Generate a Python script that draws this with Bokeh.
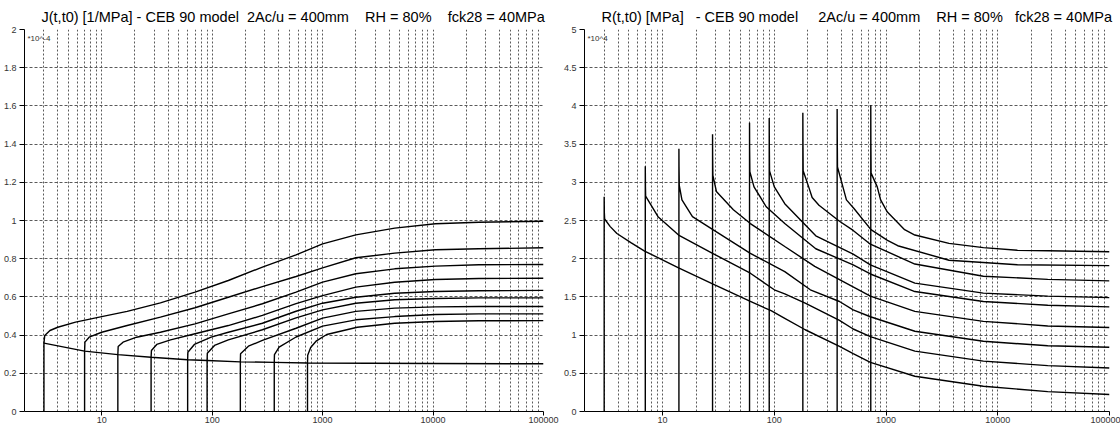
from bokeh.plotting import figure
from bokeh.models import Range1d, FixedTicker, Label
from bokeh.layouts import row
from bokeh.embed import file_html
from bokeh.resources import INLINE

# ---------------- data ----------------
T0 = [3, 7, 14, 28, 60, 90, 180, 365, 730]

x_ticks = [10, 100, 1000, 10000, 100000]
x_tick_labels = ["10", "100", "1000", "10000", "100000"]
x_grid = [m * 10 ** e for e in range(0, 5) for m in range(1, 10) if 2 <= m * 10 ** e <= 100000] + [100000]

j_ticks = [0, 0.2, 0.4, 0.6, 0.8, 1, 1.2, 1.4, 1.6, 1.8, 2]
j_tick_labels = ["0", "0.2", "0.4", "0.6", "0.8", "1", "1.2", "1.4", "1.6", "1.8", "2"]
r_ticks = [0, 0.5, 1, 1.5, 2, 2.5, 3, 3.5, 4, 4.5, 5]
r_tick_labels = ["0", "0.5", "1", "1.5", "2", "2.5", "3", "3.5", "4", "4.5", "5"]

# creep compliance J(t,t0) [*10^-4 1/MPa]
j3_t = [3, 3, 3.05, 3.4, 4, 5.8, 10, 17, 34, 70, 140, 285, 575, 1000, 2000, 4500, 10500, 26000, 100000]
j3_v = [0, 0.358, 0.398, 0.424, 0.441, 0.468, 0.497, 0.524, 0.569, 0.625, 0.686, 0.756, 0.820, 0.878, 0.925, 0.960, 0.983, 0.991, 0.996]
j7_t = [7, 7, 7.05, 7.7, 10, 17, 34, 70, 140, 285, 575, 1000, 2000, 4500, 10500, 26000, 100000]
j7_v = [0, 0.316, 0.363, 0.389, 0.415, 0.450, 0.494, 0.543, 0.598, 0.654, 0.707, 0.752, 0.805, 0.829, 0.847, 0.852, 0.857]
j14_t = [14, 14, 14.1, 15.6, 20.7, 34, 70, 140, 285, 575, 1000, 2000, 4500, 10500, 26000, 100000]
j14_v = [0, 0.298, 0.340, 0.363, 0.389, 0.415, 0.459, 0.511, 0.564, 0.625, 0.677, 0.721, 0.747, 0.761, 0.768, 0.770]
j28_t = [28, 28, 28.2, 31.5, 42, 70, 140, 285, 575, 1000, 2000, 4500, 10500, 26000, 100000]
j28_v = [0, 0.284, 0.319, 0.351, 0.375, 0.407, 0.450, 0.503, 0.565, 0.607, 0.651, 0.677, 0.691, 0.696, 0.698]
j60_t = [60, 60, 60.3, 69, 98, 140, 285, 575, 1000, 2000, 4500, 10500, 26000, 100000]
j60_v = [0, 0.271, 0.310, 0.351, 0.389, 0.415, 0.462, 0.525, 0.567, 0.598, 0.619, 0.628, 0.632, 0.634]
j90_t = [90, 90, 90.4, 105, 140, 285, 575, 1000, 2000, 4500, 10500, 26000, 100000]
j90_v = [0, 0.267, 0.305, 0.346, 0.375, 0.428, 0.490, 0.532, 0.567, 0.585, 0.592, 0.595, 0.595]
j180_t = [180, 180, 180.8, 213, 285, 575, 1000, 2000, 4500, 10500, 26000, 100000]
j180_v = [0, 0.260, 0.302, 0.342, 0.372, 0.436, 0.489, 0.524, 0.541, 0.548, 0.550, 0.550]
j365_t = [365, 365, 366.5, 404, 575, 1000, 2000, 4500, 10500, 26000, 100000]
j365_v = [0, 0.257, 0.298, 0.337, 0.390, 0.447, 0.480, 0.497, 0.508, 0.511, 0.511]
j730_t = [730, 730, 733, 780, 880, 1090, 2060, 4500, 10500, 26000, 100000]
j730_v = [0, 0.254, 0.295, 0.335, 0.370, 0.403, 0.441, 0.462, 0.471, 0.475, 0.476]
jel_t = [3, 7, 14, 28, 60, 90, 180, 365, 730, 10000, 100000]
jel_v = [0.358, 0.316, 0.298, 0.284, 0.271, 0.267, 0.260, 0.257, 0.254, 0.251, 0.250]

# relaxation R(t,t0) [*10^4 MPa]
r3_t = [3, 3, 3.01, 3.03, 3.4, 3.9, 5.2, 6.9, 13.9, 28, 61, 93.5, 124, 189, 383, 508, 724, 1811, 7430, 28000, 100000]
r3_v = [0, 2.81, 2.60, 2.52, 2.42, 2.33, 2.21, 2.10, 1.88, 1.67, 1.44, 1.32, 1.22, 1.07, 0.853, 0.757, 0.644, 0.461, 0.33, 0.26, 0.222]
r7_t = [7, 7, 7.02, 7.05, 9.1, 13.9, 28, 61, 100, 124, 189, 383, 508, 724, 1811, 7430, 28000, 100000]
r7_v = [0, 3.21, 2.95, 2.82, 2.55, 2.31, 2.07, 1.81, 1.593, 1.54, 1.419, 1.192, 1.08, 0.98, 0.79, 0.66, 0.60, 0.57]
r14_t = [14, 14, 14.03, 14.1, 14.9, 18.5, 28.2, 61, 124, 210, 383, 508, 724, 1811, 7430, 28000, 100000]
r14_v = [0, 3.44, 3.2, 2.96, 2.77, 2.55, 2.38, 2.07, 1.83, 1.593, 1.44, 1.33, 1.24, 1.05, 0.92, 0.86, 0.84]
r28_t = [28, 28, 28.05, 28.2, 30.3, 43, 61, 124, 230, 724, 1811, 7430, 28000, 100000]
r28_v = [0, 3.63, 3.35, 3.09, 2.88, 2.64, 2.46, 2.16, 1.90, 1.51, 1.31, 1.18, 1.12, 1.10]
r60_t = [60, 60, 60.1, 60.4, 65.8, 84.6, 124, 235, 508, 724, 1811, 7430, 28000, 100000]
r60_v = [0, 3.78, 3.45, 3.14, 2.94, 2.68, 2.46, 2.13, 1.92, 1.80, 1.57, 1.44, 1.39, 1.37]
r90_t = [90, 90, 90.2, 90.6, 100, 124, 235, 508, 724, 1811, 7430, 28000, 100000]
r90_v = [0, 3.84, 3.5, 3.15, 2.94, 2.72, 2.30, 2.06, 1.92, 1.68, 1.55, 1.51, 1.49]
r180_t = [180, 180, 180.4, 181.2, 203, 218, 251, 383, 508, 724, 1811, 7430, 28000, 100000]
r180_v = [0, 3.91, 3.55, 3.15, 2.94, 2.80, 2.70, 2.49, 2.37, 2.19, 1.93, 1.77, 1.73, 1.71]
r365_t = [365, 365, 365.8, 367.5, 411, 442, 514, 733, 1030, 1272, 3660, 15000, 100000]
r365_v = [0, 3.96, 3.6, 3.2, 2.94, 2.77, 2.66, 2.38, 2.24, 2.17, 1.98, 1.92, 1.91]
r730_t = [730, 730, 731.5, 735, 834, 894, 1028, 1466, 1811, 3660, 7430, 15000, 100000]
r730_v = [0, 4.01, 3.5, 3.12, 2.94, 2.77, 2.61, 2.38, 2.31, 2.20, 2.145, 2.11, 2.09]

J_SERIES = [(j3_t, j3_v), (j7_t, j7_v), (j14_t, j14_v), (j28_t, j28_v), (j60_t, j60_v),
            (j90_t, j90_v), (j180_t, j180_v), (j365_t, j365_v), (j730_t, j730_v), (jel_t, jel_v)]
R_SERIES = [(r3_t, r3_v), (r7_t, r7_v), (r14_t, r14_v), (r28_t, r28_v), (r60_t, r60_v),
            (r90_t, r90_v), (r180_t, r180_v), (r365_t, r365_v), (r730_t, r730_v)]

NB = "\u00a0"
TITLE_J = "J(t,t0) [1/MPa] - CEB 90 model" + NB * 2 + "2Ac/u = 400mm" + NB * 4 + "RH = 80%" + NB * 4 + "fck28 = 40MPa"
TITLE_R = "R(t,t0) [MPa]" + NB * 3 + "- CEB 90 model" + NB * 5 + "2Ac/u = 400mm" + NB * 4 + "RH = 80%" + NB * 3 + "fck28 = 40MPa"

FONT = "Liberation Sans"


def make_fig(title, ymax, yticks, ylabels, series, mult, left_border, right_border):
    p = figure(width=560, height=428, x_axis_type="log",
               x_range=Range1d(2, 100000), y_range=Range1d(0, ymax),
               output_backend="svg", toolbar_location=None,
               min_border_left=left_border, min_border_right=right_border,
               min_border_top=29, min_border_bottom=17)
    p.outline_line_color = None
    p.background_fill_color = "white"
    p.border_fill_color = "white"

    p.title.text = title
    p.title.align = "left"
    p.title.text_font = FONT
    p.title.text_font_size = "14.5px"
    p.title.text_font_style = "normal"
    p.title.text_color = "black"
    p.title.standoff = 10
    p.title.offset = 17

    for ax in (p.xaxis[0], p.yaxis[0]):
        ax.axis_line_color = "black"
        ax.axis_line_width = 1
        ax.major_tick_line_color = "black"
        ax.major_tick_in = 0
        ax.minor_tick_line_color = None
        ax.major_label_text_font = FONT
        ax.major_label_text_font_size = "9px"
        ax.major_label_text_color = "#333333"

    p.xaxis.major_tick_out = 4
    p.xaxis.major_label_standoff = 1
    p.yaxis.major_tick_out = 5
    p.yaxis.major_label_standoff = 3
    p.xaxis.ticker = FixedTicker(ticks=x_ticks, minor_ticks=[])
    p.xaxis.major_label_overrides = {t: l for t, l in zip(x_ticks, x_tick_labels)}
    p.yaxis.ticker = FixedTicker(ticks=yticks, minor_ticks=[])
    p.yaxis.major_label_overrides = {t: l for t, l in zip(yticks, ylabels)}

    p.xgrid.ticker = FixedTicker(ticks=x_grid, minor_ticks=[])
    p.xgrid.grid_line_color = "#5a5a5a"
    p.xgrid.grid_line_dash = "2 2"
    p.xgrid.grid_line_width = 1
    p.ygrid.ticker = FixedTicker(ticks=yticks[1:], minor_ticks=[])
    p.ygrid.grid_line_color = "#5a5a5a"
    p.ygrid.grid_line_dash = "3 2"
    p.ygrid.grid_line_width = 1

    for t, v in series:
        p.line(t, v, line_color="black", line_width=1.4)

    p.add_layout(Label(x=2, y=ymax, x_offset=3, y_offset=-4, text=mult,
                       text_font=FONT, text_font_size="8px", text_color="#333333",
                       text_baseline="top", text_align="left"))
    return p


p1 = make_fig(TITLE_J, 2, j_ticks, j_tick_labels, J_SERIES, "*10^-4", 15, 17)
p2 = make_fig(TITLE_R, 5, r_ticks, r_tick_labels, R_SERIES, "*10^4", 19, 11)

layout = row(p1, p2)
open("out.html", "w").write(file_html(layout, INLINE))
